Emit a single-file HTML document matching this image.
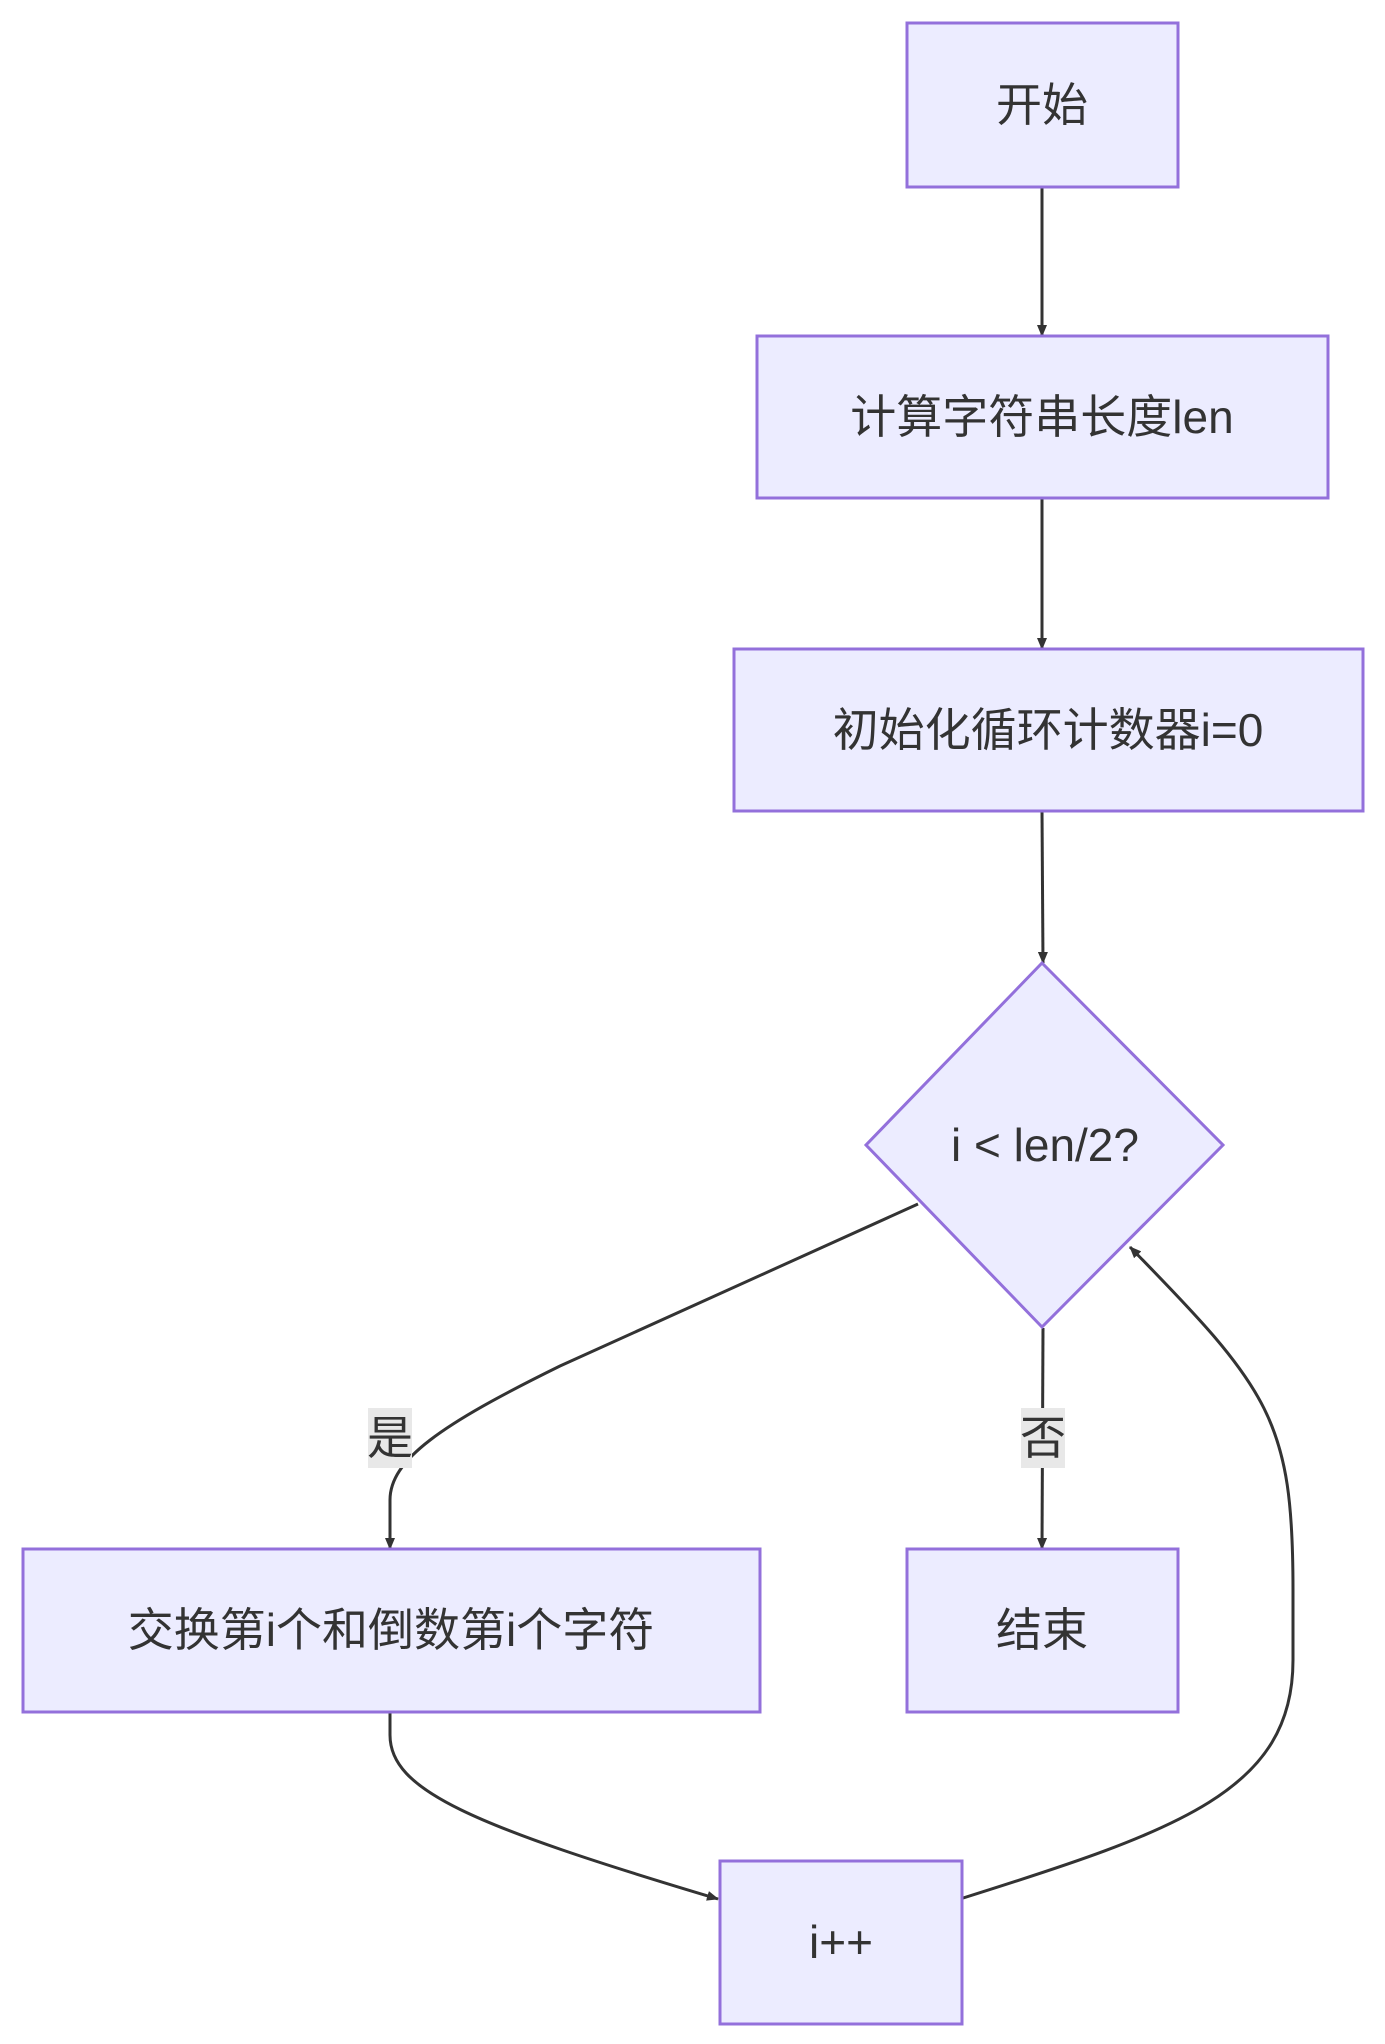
<!DOCTYPE html>
<html><head><meta charset="utf-8"><style>
html,body{margin:0;padding:0;background:#fff;}
svg{display:block}
text{font-family:"Liberation Sans","Noto Sans CJK SC",sans-serif;font-size:46px;fill:#333;}
</style></head><body>
<svg width="1385" height="2044" viewBox="0 0 1385 2044" xmlns="http://www.w3.org/2000/svg">
<defs>
<marker id="a" viewBox="0 0 12 10" refX="11" refY="5" markerWidth="12" markerHeight="10" markerUnits="userSpaceOnUse" orient="auto">
<path d="M0,0 L12,5 L0,10 z" fill="#333"/>
</marker>
</defs>
<g fill="none" stroke="#333" stroke-width="3">
<path d="M1042,187 L1042,336" marker-end="url(#a)" transform=""/>
<path d="M1042,498 L1042,649" marker-end="url(#a)"/>
<path d="M1042,811 L1043,963" marker-end="url(#a)"/>
<path d="M918,1204 L560,1366 C440,1425 390,1460 390,1500 L390,1549" marker-end="url(#a)"/>
<path d="M1043,1328 L1042,1549" marker-end="url(#a)"/>
<path d="M390,1712 L390,1735 C390,1790 470,1825 718,1899" marker-end="url(#a)"/>
<path d="M960,1899 C1180,1830 1293,1790 1293,1660 L1293,1590 C1293,1420 1270,1390 1130,1247" marker-end="url(#a)"/>
</g>
<style>.n{fill:#ececff;stroke:#9370db;stroke-width:3}</style>
<rect class="n" x="907" y="23" width="271" height="164"/>
<rect class="n" x="757" y="336" width="571" height="162"/>
<rect class="n" x="734" y="649" width="629" height="162"/>
<polygon class="n" points="1042,963 1223,1145 1042,1327 866,1145"/>
<rect class="n" x="23" y="1549" width="737" height="163"/>
<rect class="n" x="907" y="1549" width="271" height="163"/>
<rect class="n" x="720" y="1861" width="242" height="163"/>
<rect x="368" y="1408" width="44" height="60" fill="#e8e8e8"/>
<rect x="1021" y="1408" width="44" height="60" fill="#e8e8e8"/>
<g text-anchor="middle" dominant-baseline="central">
<text x="1042" y="105">开始</text>
<text x="1042" y="417">计算字符串长度len</text>
<text x="1048" y="730">初始化循环计数器i=0</text>
<text x="1045" y="1145">i &lt; len/2?</text>
<text x="390" y="1438">是</text>
<text x="1043" y="1438">否</text>
<text x="391" y="1630">交换第i个和倒数第i个字符</text>
<text x="1042" y="1630">结束</text>
<text x="841" y="1942">i++</text>
</g>
</svg>
</body></html>
